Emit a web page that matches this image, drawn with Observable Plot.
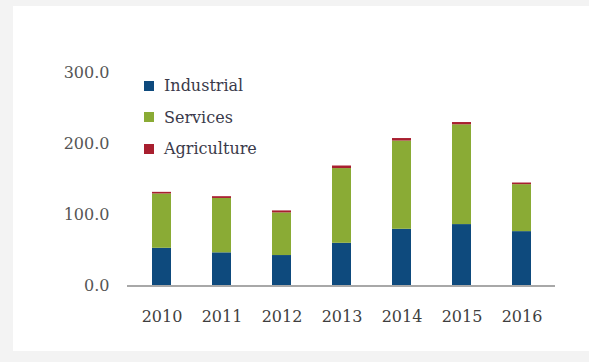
<!DOCTYPE html>
<html>
<head>
<meta charset="utf-8">
<script src="https://cdn.jsdelivr.net/npm/d3@7"></script>
<script src="https://cdn.jsdelivr.net/npm/@observablehq/plot@0.6"></script>
<style>
  html, body { margin: 0; padding: 0; background: #f3f3f3; }
  #wrap { position: relative; width: 589px; height: 362px; overflow: hidden; }
  #panel { position: absolute; left: 13px; top: 6px; width: 576px; height: 345px; background: #ffffff; }
  #chart { position: absolute; left: 0; top: 0; }
  #legend { position: absolute; left: 144px; top: 70px; font-family: "DejaVu Serif", serif; font-size: 16px; color: #3a3a4a; }
  .row { display: flex; align-items: center; height: 31.5px; }
  .sw { width: 10px; height: 10px; margin-right: 10px; }
</style>
</head>
<body>
<div id="wrap">
  <div id="panel"></div>
  <div id="chart"></div>
  <div id="legend"></div>
</div>
<script>
const years = ["2010", "2011", "2012", "2013", "2014", "2015", "2016"];
const sectors = ["Industrial", "Services", "Agriculture"];
const industrial = [53.0, 46.6, 42.8, 60.0, 79.7, 86.3, 76.4];
const services = [76.3, 76.4, 59.9, 105.0, 124.0, 140.2, 66.0];
const agriculture = [2.3, 2.5, 2.8, 3.6, 3.5, 3.2, 2.3];
const colors = ["#0e4a7d", "#8aab35", "#a81f2f"];
const yTicks = [0, 100, 200, 300];

const seriesBySector = { Industrial: industrial, Services: services, Agriculture: agriculture };
const data = [];
for (const s of sectors) {
  years.forEach((y, i) => data.push({ year: y, sector: s, value: seriesBySector[s][i] }));
}

const chart = Plot.plot({
  width: 589,
  height: 362,
  marginLeft: 127,
  marginRight: 34,
  marginTop: 72,
  marginBottom: 76.5,
  style: { background: "transparent", fontFamily: "DejaVu Serif, serif" },
  x: { domain: years, paddingInner: 0.69, paddingOuter: 0.37, label: null },
  y: { domain: [0, 300], label: null },
  color: { domain: sectors, range: colors },
  marks: [
    Plot.barY(data, { x: "year", y: "value", fill: "sector", order: sectors }),
    Plot.ruleY([0], { stroke: "#a8a8a8", strokeWidth: 2 }),
    Plot.axisY({ ticks: yTicks, tickFormat: d3.format(".1f"), tickSize: 0, tickPadding: 18, fontSize: 16, fill: "#555555", label: null }),
    Plot.axisX({ tickSize: 0, tickPadding: 25, fontSize: 16, fill: "#3f3f3f", label: null })
  ]
});
document.getElementById("chart").appendChild(chart);

const legend = document.getElementById("legend");
sectors.forEach((s, i) => {
  const row = document.createElement("div");
  row.className = "row";
  const sw = document.createElement("div");
  sw.className = "sw";
  sw.style.background = colors[i];
  const t = document.createElement("span");
  t.textContent = s;
  row.appendChild(sw);
  row.appendChild(t);
  legend.appendChild(row);
});
</script>
</body>
</html>
